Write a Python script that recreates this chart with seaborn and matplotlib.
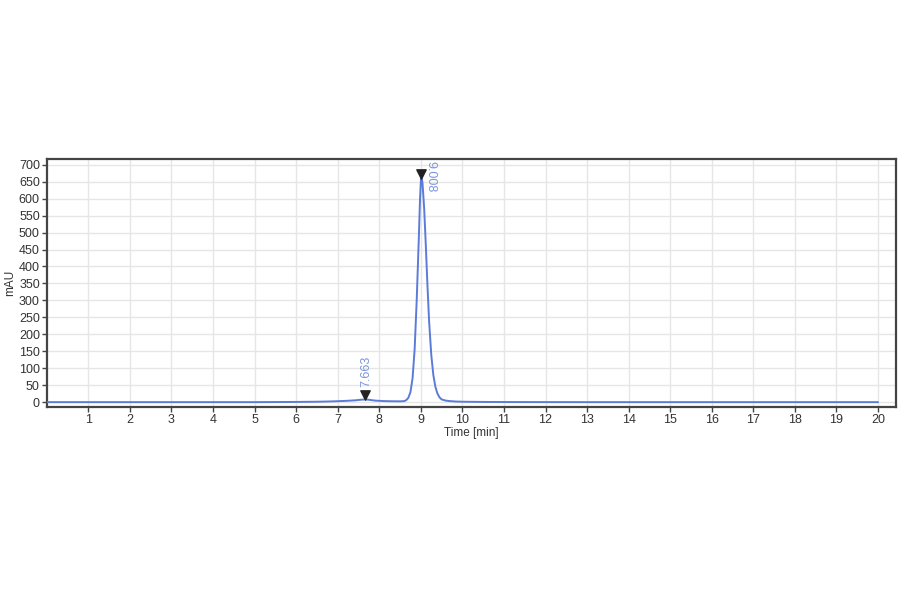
import pandas as pd
import numpy as np
import matplotlib.pyplot as plt
import seaborn as sns

# chromatogram trace (time in min, signal in mAU)
time_min = [0.0, 1.0, 2.0, 3.0, 4.0, 5.0, 5.5, 6.0, 6.5, 6.8, 7.0, 7.2, 7.4, 7.55,
            7.663, 7.75, 7.9, 8.1, 8.3, 8.5, 8.6, 8.65, 8.7, 8.75, 8.8, 8.85, 8.9,
            8.95, 8.98, 9.008, 9.04, 9.08, 9.12, 9.16, 9.2, 9.25, 9.3, 9.35, 9.4,
            9.45, 9.5, 9.6, 9.7, 9.85, 10.0, 10.5, 11.0, 12.0, 13.0, 14.0, 15.0,
            16.0, 17.0, 18.0, 19.0, 20.0]
signal_mau = [0, 0, 0, 0, 0, 0, 0.3, 0.6, 1.2, 2.0, 2.8, 3.8, 5.2, 7.0,
              8.0, 7.0, 4.5, 3.2, 2.6, 2.4, 3.0, 6, 13, 30, 70, 155, 300,
              480, 600, 672, 645, 570, 460, 340, 235, 140, 80, 45, 25,
              14, 8, 4.5, 3, 1.8, 1.2, 0.6, 0.3, 0.1, 0, 0, 0,
              0, 0, 0, 0, 0]

# peaks picked by the software
peak_rt = [7.663, 9.008]
peak_height = [8.0, 672]
peak_labels = ['7.663', '9.008']

x_ticks = list(range(1, 21))
y_ticks = list(range(0, 701, 50))

df = pd.DataFrame({'time': time_min, 'mAU': signal_mau})

sns.set_style('white')
plt.rcParams['font.family'] = ['Liberation Sans', 'DejaVu Sans']

fig = plt.figure(figsize=(9, 5.94), dpi=100)
ax = fig.add_axes([0.052, 0.315, 0.943, 0.418])

sns.lineplot(data=df, x='time', y='mAU', ax=ax, color='#5b7bd8', linewidth=1.4, zorder=3)

# peak markers and retention time labels
ax.scatter(peak_rt[0], peak_height[0] + 12, marker='v', s=45, color='#222222', zorder=4)
ax.scatter(peak_rt[1], peak_height[1], marker='v', s=45, color='#222222', zorder=4)
ax.text(peak_rt[0] + 0.02, peak_height[0] + 36, peak_labels[0], rotation=90,
        ha='center', va='bottom', color='#7a96de', fontsize=9)
ax.text(peak_rt[1] + 0.08, 710, peak_labels[1], rotation=270,
        ha='left', va='top', color='#7a96de', fontsize=9)

ax.set_xlim(0, 20.42)
ax.set_ylim(-14, 718)
ax.set_xticks(x_ticks)
ax.set_yticks(y_ticks)
ax.grid(True, color='#e6e6e6', linewidth=1.0, zorder=0)
ax.tick_params(axis='both', direction='out', length=3.5, width=1, color='#444444',
               labelsize=9, labelcolor='#333333', pad=1.5)
ax.tick_params(left=True, bottom=True)
for side in ['top', 'right', 'bottom', 'left']:
    ax.spines[side].set_color('#444444')
    ax.spines[side].set_linewidth(1.6)

ax.set_xlabel('Time [min]', fontsize=8.5, color='#333333', labelpad=1)
ax.set_ylabel('mAU', fontsize=8.5, color='#333333', labelpad=2)

plt.savefig('out.png', dpi=100)
